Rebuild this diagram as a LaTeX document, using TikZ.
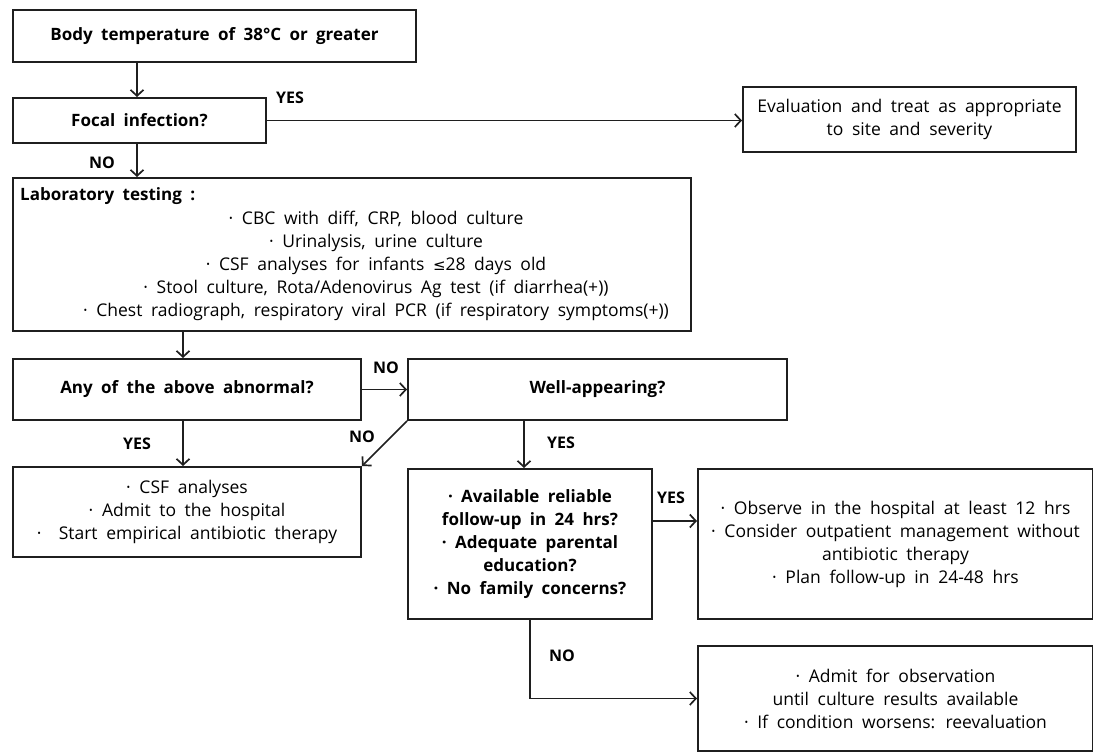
\documentclass[tikz,border=0pt]{standalone}
\usepackage{fontspec}
\setmainfont{Open Sans}[WordSpace=1.9]
\newfontfamily\symfont{DejaVu Sans}
\usetikzlibrary{arrows.meta}
\begin{document}
\begin{tikzpicture}[x=1pt,y=-1pt,
  box/.style={draw=black!88, line width=2pt, inner sep=0pt, align=center, anchor=north west,
              font=\fontsize{17.5}{23}\selectfont},
  bbox/.style={box, font=\fontsize{17}{23}\selectfont\bfseries},
  txt/.style={inner sep=0pt, align=center, font=\fontsize{17.5}{23}\selectfont},
  lbl/.style={inner sep=0pt, font=\fontsize{16}{18}\selectfont\bfseries},
  arr/.style={line width=1.7pt, draw=black!88, -{Straight Barb[length=6pt,width=13pt,line width=1.7pt]}},
]
\fill[white] (0,0) rectangle (1093,752);
\useasboundingbox (0,0) rectangle (1093,752);

% boxes
\node[bbox, minimum width=403pt, minimum height=52pt] (b1) at (12,9) {Body temperature of 38°C or greater};
\node[bbox, minimum width=253pt, minimum height=45pt] (b2) at (12,97) {Focal infection?};
\node[box, minimum width=333pt, minimum height=65pt] (ev) at (742,86) {Evaluation and treat as appropriate\\to site and severity};
\node[box, minimum width=678pt, minimum height=153pt] (lab) at (12,177) {};
\node[txt, anchor=west, font=\fontsize{17}{23}\selectfont\bfseries] (labt) at (20,196) {Laboratory testing :};
\node[txt] (labi) at (376,266) {· CBC with diff, CRP, blood culture\\
· Urinalysis, urine culture\\
· CSF analyses for infants {\symfont\fontsize{15}{23}\selectfont ≤}28 days old\\
· Stool culture, Rota/Adenovirus Ag test (if diarrhea(+))\\
· Chest radiograph, respiratory viral PCR (if respiratory symptoms(+))};
\node[bbox, minimum width=348pt, minimum height=61pt] (abn) at (12,358) {Any of the above abnormal?};
\node[bbox, minimum width=379pt, minimum height=61pt] (well) at (407,358) {Well-appearing?};
\node[box, minimum width=348pt, minimum height=90pt] (csf) at (12,466) {· CSF analyses\\· Admit to the hospital\\· \ Start empirical antibiotic therapy};
\node[bbox, minimum width=244pt, minimum height=150pt] (q) at (407,468) {· Available reliable\\follow-up in 24 hrs?\\· Adequate parental\\education?\\· No family concerns?};
\node[box, minimum width=395pt, minimum height=150pt] (obs) at (697,468) {· Observe in the hospital at least 12 hrs\\· Consider outpatient management without\\antibiotic therapy\\· Plan follow-up in 24-48 hrs};
\node[box, minimum width=395pt, minimum height=105pt] (adm) at (697,645) {· Admit for observation\\until culture results available\\· If condition worsens: reevaluation};

% labels
\node[lbl] (l1) at (290,98) {YES};
\node[lbl] (l2) at (102,163) {NO};
\node[lbl] (l3) at (386,368) {NO};
\node[lbl] (l4) at (137,444) {YES};
\node[lbl] (l5) at (362,437) {NO};
\node[lbl] (l6) at (561,443) {YES};
\node[lbl] (l7) at (671,498) {YES};
\node[lbl] (l8) at (562,656) {NO};

% connectors
\draw[arr] ([xshift=125pt]b1.south west) -- ([xshift=125pt]b2.north west);
\draw[arr] (b2.east) -- (b2.east -| ev.west);
\draw[arr] ([xshift=125pt]b2.south west) -- ([xshift=125pt]lab.north west);
\draw[arr] ([xshift=171pt]lab.south west) -- ([xshift=171pt]abn.north west);
\draw[arr] (abn.east) -- (well.west);
\draw[arr] ([xshift=171pt]abn.south west) -- ([xshift=171pt]csf.north west);
\draw[arr] (well.south west) -- (csf.north east);
\draw[arr] ([xshift=117pt]well.south west) -- ([xshift=117pt]q.north west);
\draw[arr] ([yshift=23pt]q.east) -- ([yshift=23pt]q.east -| obs.west);
\draw[arr] ([xshift=123pt]q.south west) |- (adm.west);
\end{tikzpicture}
\end{document}
